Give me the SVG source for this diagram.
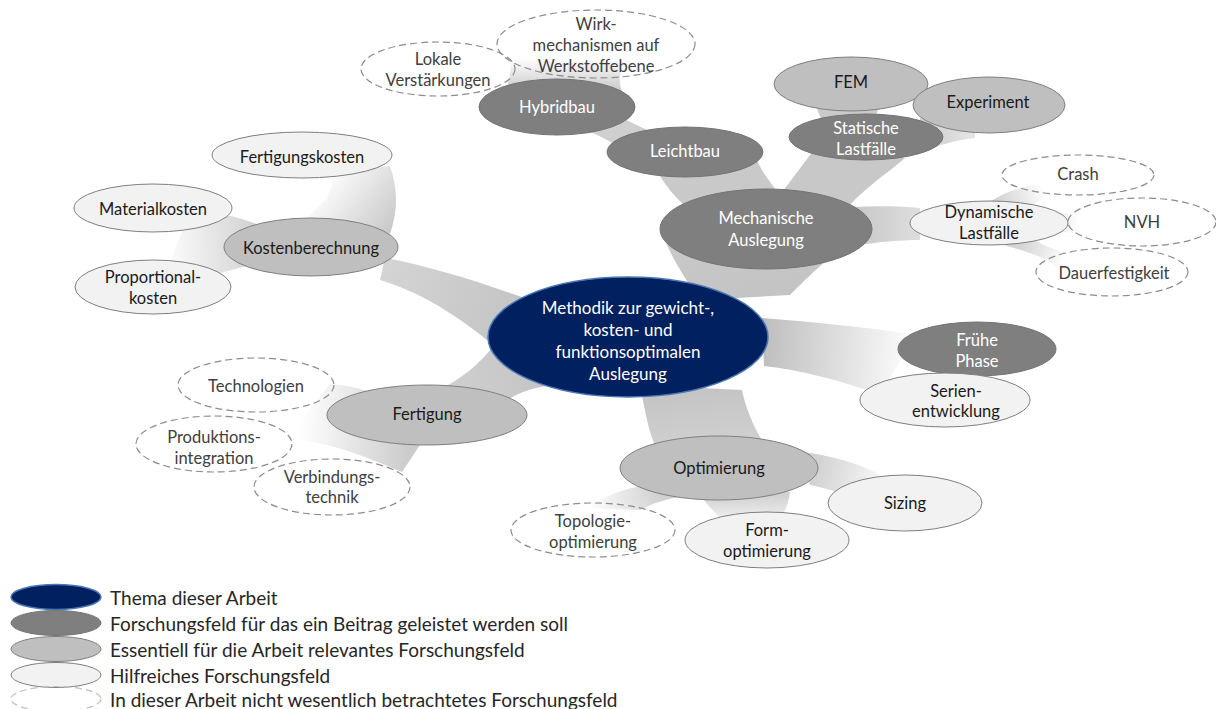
<svg xmlns="http://www.w3.org/2000/svg" width="1216" height="709" viewBox="0 0 1216 709">
<style>
text{font-family:Lato,"Liberation Sans",sans-serif;font-size:16.5px;text-anchor:middle;dominant-baseline:central}
.navy{fill:#002060;stroke:#4a78b5;stroke-width:1.5}
.dark{fill:#7f7f7f;stroke:#737373;stroke-width:1}
.mid{fill:#bfbfbf;stroke:#7f7f7f;stroke-width:1}
.light{fill:#f2f2f2;stroke:#7f7f7f;stroke-width:1}
.dash{fill:none;stroke:#8c8c8c;stroke-width:1.2;stroke-dasharray:7 4}
.ldash{fill:none;stroke:#bfbfbf;stroke-width:1.2;stroke-dasharray:7 4}
.tw{fill:#ffffff}
.tb{fill:#1a1a1a}
.tg{fill:#404040}
.leg{font-size:19px;text-anchor:start;fill:#262626}
</style>
<defs>
<linearGradient id="gK" gradientUnits="userSpaceOnUse" x1="520" y1="320" x2="385" y2="268"><stop offset="0" stop-color="#c4c4c4"/><stop offset="1" stop-color="#d4d4d4"/></linearGradient>
<linearGradient id="gKF" gradientUnits="userSpaceOnUse" x1="392" y1="230" x2="325" y2="178"><stop offset="0" stop-color="#c8c8c8"/><stop offset="1" stop-color="#ffffff"/></linearGradient>
<linearGradient id="gKM" gradientUnits="userSpaceOnUse" x1="262" y1="245" x2="160" y2="250"><stop offset="0" stop-color="#cfcfcf"/><stop offset="1" stop-color="#ffffff"/></linearGradient>
<linearGradient id="gF" gradientUnits="userSpaceOnUse" x1="540" y1="370" x2="450" y2="400"><stop offset="0" stop-color="#c4c4c4"/><stop offset="1" stop-color="#d0d0d0"/></linearGradient>
<linearGradient id="gFc" gradientUnits="userSpaceOnUse" x1="410" y1="430" x2="300" y2="420"><stop offset="0" stop-color="#cccccc"/><stop offset="1" stop-color="#ffffff"/></linearGradient>
<linearGradient id="gO" gradientUnits="userSpaceOnUse" x1="700" y1="390" x2="705" y2="445"><stop offset="0" stop-color="#c4c4c4"/><stop offset="1" stop-color="#d0d0d0"/></linearGradient>
<linearGradient id="gOS" gradientUnits="userSpaceOnUse" x1="805" y1="470" x2="880" y2="488"><stop offset="0" stop-color="#cccccc"/><stop offset="1" stop-color="#f8f8f8"/></linearGradient>
<linearGradient id="gOF" gradientUnits="userSpaceOnUse" x1="745" y1="495" x2="745" y2="518"><stop offset="0" stop-color="#d0d0d0"/><stop offset="1" stop-color="#eeeeee"/></linearGradient>
<linearGradient id="gOT" gradientUnits="userSpaceOnUse" x1="660" y1="490" x2="590" y2="510"><stop offset="0" stop-color="#d0d0d0"/><stop offset="1" stop-color="#ffffff"/></linearGradient>
<linearGradient id="gP" gradientUnits="userSpaceOnUse" x1="765" y1="340" x2="905" y2="350"><stop offset="0" stop-color="#bfbfbf"/><stop offset="1" stop-color="#fafafa"/></linearGradient>
<linearGradient id="gD" gradientUnits="userSpaceOnUse" x1="850" y1="225" x2="920" y2="225"><stop offset="0" stop-color="#c6c6c6"/><stop offset="1" stop-color="#dedede"/></linearGradient>
<linearGradient id="gDc" gradientUnits="userSpaceOnUse" x1="1030" y1="222" x2="1080" y2="222"><stop offset="0" stop-color="#d4d4d4"/><stop offset="1" stop-color="#ffffff"/></linearGradient>
<linearGradient id="gDC" gradientUnits="userSpaceOnUse" x1="1000" y1="205" x2="1045" y2="188"><stop offset="0" stop-color="#d4d4d4"/><stop offset="1" stop-color="#ffffff"/></linearGradient>
<linearGradient id="gDD" gradientUnits="userSpaceOnUse" x1="1020" y1="245" x2="1065" y2="262"><stop offset="0" stop-color="#d4d4d4"/><stop offset="1" stop-color="#ffffff"/></linearGradient>
<linearGradient id="gM" gradientUnits="userSpaceOnUse" x1="740" y1="295" x2="730" y2="240"><stop offset="0" stop-color="#c4c4c4"/><stop offset="1" stop-color="#c8c8c8"/></linearGradient>
<linearGradient id="gH" gradientUnits="userSpaceOnUse" x1="560" y1="92" x2="560" y2="58"><stop offset="0" stop-color="#c8c8c8"/><stop offset="1" stop-color="#ffffff"/></linearGradient>
<linearGradient id="gSE" gradientUnits="userSpaceOnUse" x1="920" y1="135" x2="975" y2="130"><stop offset="0" stop-color="#cccccc"/><stop offset="1" stop-color="#e6e6e6"/></linearGradient>
</defs>

<g id="connectors">
<path d="M 665 240 C 675 265, 690 285, 700 300 L 790 295 C 805 280, 815 270, 825 262 Z" fill="url(#gM)"/>
<path d="M 385 258 C 430 266, 480 282, 530 300 L 505 355 C 470 325, 430 295, 380 280 Z" fill="url(#gK)"/>
<path d="M 300 222 C 328 202, 338 186, 328 170 L 390 166 C 398 190, 398 210, 390 234 Z" fill="url(#gKF)"/>
<path d="M 262 226 C 235 216, 215 211, 190 212 L 160 288 C 195 280, 232 270, 262 262 Z" fill="url(#gKM)"/>
<path d="M 498 340 C 480 365, 460 380, 435 392 L 500 405 C 520 390, 540 385, 565 385 Z" fill="url(#gF)"/>
<path d="M 380 395 C 360 388, 345 385, 330 384 L 285 440 C 320 440, 350 450, 402 472 L 420 445 Z" fill="url(#gFc)"/>
<path d="M 640 385 C 645 410, 648 430, 655 445 L 765 445 C 752 425, 745 405, 742 390 Z" fill="url(#gO)"/>
<path d="M 805 452 C 840 458, 865 465, 885 478 L 860 500 C 840 492, 825 488, 810 485 Z" fill="url(#gOS)"/>
<path d="M 700 495 L 790 492 C 788 505, 785 512, 780 518 L 720 518 C 712 510, 705 502, 700 495 Z" fill="url(#gOF)"/>
<path d="M 645 485 C 620 490, 600 498, 585 508 L 640 510 C 655 502, 670 498, 690 495 Z" fill="url(#gOT)"/>
<path d="M 762 318 C 810 322, 860 326, 915 335 L 880 395 C 840 380, 800 370, 764 366 Z" fill="url(#gP)"/>
<path d="M 850 207 C 880 206, 900 206, 920 208 L 920 240 C 900 240, 880 242, 850 246 Z" fill="url(#gD)"/>
<path d="M 985 205 C 1000 195, 1015 188, 1035 185 L 1060 192 C 1045 198, 1030 205, 1020 212 Z" fill="url(#gDC)"/>
<path d="M 1055 212 C 1065 214, 1072 214, 1085 212 L 1085 235 C 1072 232, 1065 232, 1055 232 Z" fill="url(#gDc)"/>
<path d="M 1030 238 C 1045 246, 1055 250, 1070 254 L 1060 270 C 1050 260, 1040 255, 1000 244 Z" fill="url(#gDD)"/>
<path d="M 655 168 C 665 185, 675 198, 690 210 L 780 195 C 770 182, 762 172, 757 160 Z" fill="#c9c9c9"/>
<path d="M 600 108 C 625 118, 640 128, 660 135 L 640 165 C 625 150, 610 140, 590 132 Z" fill="#cfcfcf"/>
<path d="M 505 92 C 510 78, 512 70, 510 60 L 625 58 C 620 70, 618 80, 622 92 Z" fill="url(#gH)"/>
<path d="M 780 195 C 795 175, 805 162, 815 148 L 905 158 C 885 175, 865 188, 850 205 Z" fill="#c8c8c8"/>
<path d="M 815 100 L 880 100 C 878 110, 876 118, 872 125 L 825 125 C 820 118, 817 110, 815 100 Z" fill="#cacaca"/>
<path d="M 920 118 C 940 122, 955 125, 975 122 L 975 138 C 955 140, 940 145, 920 152 Z" fill="url(#gSE)"/>
</g>

<g id="center"><ellipse class="navy" cx="628" cy="337" rx="140" ry="60"/>
<text class="tw" x="628" y="307" style="font-size:17px">Methodik zur gewicht-,</text><text class="tw" x="628" y="329" style="font-size:17px">kosten- und</text><text class="tw" x="628" y="351" style="font-size:17px">funktionsoptimalen</text><text class="tw" x="628" y="373" style="font-size:17px">Auslegung</text></g>

<g id="mech"><ellipse class="dark" cx="766" cy="229" rx="106" ry="40"/><text class="tw" x="766" y="218">Mechanische</text><text class="tw" x="766" y="240">Auslegung</text></g>
<g id="leichtbau"><ellipse class="dark" cx="685" cy="152" rx="78" ry="25"/><text class="tw" x="685" y="151">Leichtbau</text></g>
<g id="hybridbau"><ellipse class="dark" cx="557" cy="107" rx="78" ry="28"/><text class="tw" x="557" y="107">Hybridbau</text></g>
<g id="lokale"><ellipse class="dash" cx="438" cy="69" rx="77" ry="27"/><text class="tg" x="438" y="59">Lokale</text><text class="tg" x="438" y="80">Verstärkungen</text></g>
<g id="wirk"><ellipse class="dash" cx="596" cy="44" rx="99" ry="34"/><text class="tg" x="596" y="24">Wirk-</text><text class="tg" x="596" y="45">mechanismen auf</text><text class="tg" x="596" y="66">Werkstoffebene</text></g>
<g id="fem"><ellipse class="mid" cx="851" cy="84" rx="77" ry="27"/><text class="tb" x="851" y="82">FEM</text></g>
<g id="experiment"><ellipse class="mid" cx="989" cy="105" rx="76" ry="28"/><text class="tb" x="988" y="102">Experiment</text></g>
<g id="statische"><ellipse class="dark" cx="866" cy="137" rx="77" ry="23"/><text class="tw" x="866" y="128">Statische</text><text class="tw" x="866" y="149">Lastfälle</text></g>
<g id="dynamische"><ellipse class="light" cx="989" cy="223" rx="79" ry="22"/><text class="tb" x="989" y="212">Dynamische</text><text class="tb" x="989" y="233">Lastfälle</text></g>
<g id="crash"><ellipse class="dash" cx="1078" cy="175" rx="76" ry="20"/><text class="tg" x="1078" y="174">Crash</text></g>
<g id="nvh"><ellipse class="dash" cx="1142" cy="222" rx="74" ry="24"/><text class="tg" x="1142" y="222">NVH</text></g>
<g id="dauer"><ellipse class="dash" cx="1112" cy="272" rx="76" ry="24"/><text class="tg" x="1114" y="273">Dauerfestigkeit</text></g>
<g id="fruehe"><ellipse class="dark" cx="977" cy="349" rx="79" ry="27"/><text class="tw" x="977" y="340">Frühe</text><text class="tw" x="977" y="361">Phase</text></g>
<g id="serien"><ellipse class="light" cx="945" cy="400" rx="85" ry="27"/><text class="tb" x="956" y="391">Serien-</text><text class="tb" x="956" y="411">entwicklung</text></g>
<g id="optimierung"><ellipse class="mid" cx="719" cy="468" rx="99" ry="32"/><text class="tb" x="719" y="468">Optimierung</text></g>
<g id="sizing"><ellipse class="light" cx="905" cy="503" rx="77" ry="28"/><text class="tb" x="905" y="503">Sizing</text></g>
<g id="form"><ellipse class="light" cx="767" cy="540" rx="82" ry="28"/><text class="tb" x="767" y="530">Form-</text><text class="tb" x="767" y="551">optimierung</text></g>
<g id="topologie"><ellipse class="dash" cx="593" cy="530" rx="82" ry="27"/><text class="tg" x="593" y="521">Topologie-</text><text class="tg" x="593" y="542">optimierung</text></g>
<g id="fertigung"><ellipse class="mid" cx="427" cy="415" rx="100" ry="30"/><text class="tb" x="427" y="414">Fertigung</text></g>
<g id="technologien"><ellipse class="dash" cx="256" cy="385" rx="78" ry="27"/><text class="tg" x="256" y="386">Technologien</text></g>
<g id="produktion"><ellipse class="dash" cx="214" cy="444" rx="78" ry="28"/><text class="tg" x="214" y="437">Produktions-</text><text class="tg" x="214" y="458">integration</text></g>
<g id="verbindung"><ellipse class="dash" cx="332" cy="487" rx="78" ry="28"/><text class="tg" x="332" y="477">Verbindungs-</text><text class="tg" x="332" y="497">technik</text></g>
<g id="kosten"><ellipse class="mid" cx="311" cy="247" rx="87" ry="29"/><text class="tb" x="311" y="248">Kostenberechnung</text></g>
<g id="fertigungskosten"><ellipse class="light" cx="302" cy="155" rx="90" ry="23"/><text class="tb" x="302" y="157">Fertigungskosten</text></g>
<g id="materialkosten"><ellipse class="light" cx="153" cy="208" rx="79" ry="24"/><text class="tb" x="153" y="209">Materialkosten</text></g>
<g id="proportional"><ellipse class="light" cx="153" cy="287" rx="78" ry="27"/><text class="tb" x="153" y="277">Proportional-</text><text class="tb" x="153" y="298">kosten</text></g>

<g id="legend">
<ellipse class="navy" cx="56" cy="597" rx="45" ry="12.5"/><text class="leg" x="110" y="597">Thema dieser Arbeit</text>
<ellipse class="dark" cx="56" cy="623" rx="45" ry="12.5"/><text class="leg" x="110" y="623">Forschungsfeld für das ein Beitrag geleistet werden soll</text>
<ellipse class="mid" cx="56" cy="649" rx="45" ry="12.5"/><text class="leg" x="110" y="649">Essentiell für die Arbeit relevantes Forschungsfeld</text>
<ellipse class="light" cx="56" cy="675" rx="45" ry="12.5"/><text class="leg" x="110" y="675">Hilfreiches Forschungsfeld</text>
<ellipse class="ldash" cx="56" cy="699" rx="45" ry="12.5"/><text class="leg" x="110" y="699">In dieser Arbeit nicht wesentlich betrachtetes Forschungsfeld</text>
</g>
</svg>
